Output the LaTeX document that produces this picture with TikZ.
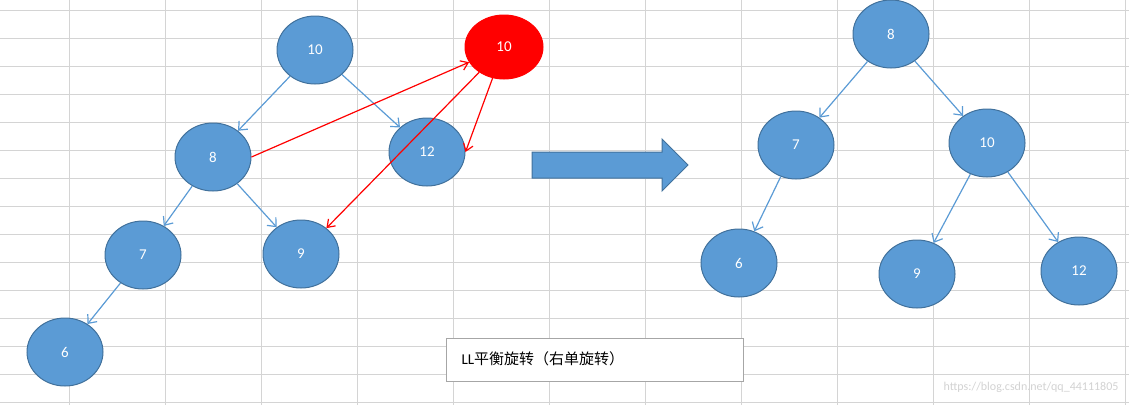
\documentclass[tikz,border=0pt]{standalone}
\usepackage{fontspec}
\setmainfont{Carlito}
\newfontfamily\cjk{Noto Sans CJK SC}
\usetikzlibrary{arrows.meta}
\definecolor{nfill}{RGB}{91,155,213}
\definecolor{nedge}{RGB}{65,113,156}
\definecolor{gridc}{RGB}{212,212,212}
\tikzset{
 nd/.style={ellipse,fill=nfill,draw=nedge,line width=1pt,minimum width=76pt,minimum height=68pt,inner sep=0,text=white,font=\fontsize{15}{15}\selectfont},
 rd/.style={nd,fill=red,draw=red},
 bl/.style={draw=nfill,line width=1.2pt,-{Straight Barb[length=7pt,width=12pt]}},
 rl/.style={draw=red,line width=1.2pt,-{Straight Barb[length=7pt,width=10pt]}},
}
\usetikzlibrary{shapes.geometric}
\begin{document}
\begin{tikzpicture}[x=1pt,y=-1pt]
\useasboundingbox (0,0) rectangle (1129,405);
\foreach \x in {69,165,...,1129} \draw[gridc] (\x,0) -- (\x,405);
\foreach \y in {10,38,...,405} \draw[gridc] (0,\y) -- (1129,\y);
% left tree
\node[nd] (a10) at (315,50) {10};
\node[nd] (a8) at (213,157) {8};
\node[nd] (a12) at (427,152) {12};
\node[nd] (a7) at (143,255) {7};
\node[nd] (a9) at (301,254) {9};
\node[nd] (a6) at (65,352) {6};
\node[rd,minimum height=64pt,minimum width=78pt] (r10) at (504,47) {10};
\draw[bl] (a10) -- (a8);
\draw[bl] (a10) -- (a12);
\draw[bl] (a8) -- (a7);
\draw[bl] (a8) -- (a9);
\draw[bl] (a7) -- (a6);
\draw[rl] (a8.east) -- (r10);
\draw[rl] (r10) -- (a9);
\draw[rl] (r10) -- (a12.east);
% big arrow
\node (bigA) at (610,165) {};
\draw[fill=nfill,draw=nedge,line width=1pt] (532,152) -- (662,152) -- (662,139) -- (688,165) -- (662,191) -- (662,178) -- (532,178) -- cycle;
% right tree
\node[nd] (b8) at (891,34) {8};
\node[nd] (b7) at (796,145) {7};
\node[nd] (b10) at (987,143) {10};
\node[nd] (b6) at (739,263) {6};
\node[nd] (b9) at (917,274) {9};
\node[nd] (b12) at (1079,271) {12};
\draw[bl] (b8) -- (b7);
\draw[bl] (b8) -- (b10);
\draw[bl] (b7) -- (b6);
\draw[bl] (b10) -- (b9);
\draw[bl] (b10) -- (b12);
% caption
\node[draw=gray!70,line width=1pt,fill=white,minimum width=297pt,minimum height=43pt,anchor=north west] (cap) at (446,338) {};
\node[anchor=west,font=\fontsize{15}{15}\selectfont] (capt) at (458,359) {LL{\cjk 平衡旋转（右单旋转）}};
\node[anchor=east,text=gray!35,font=\fontsize{12}{12}\selectfont] (wm) at (1122,387) {https://blog.csdn.net/qq\_44111805};
\end{tikzpicture}
\end{document}
